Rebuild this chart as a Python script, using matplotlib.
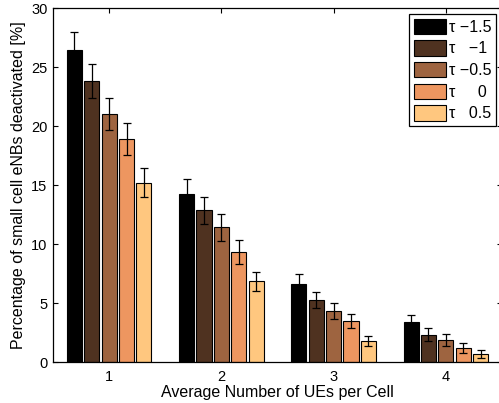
import numpy as np
import matplotlib
matplotlib.use('Agg')
import matplotlib.pyplot as plt

plt.rcParams['font.family'] = ['Liberation Sans', 'DejaVu Sans']

# data
groups = [1, 2, 3, 4]
labels = ['\u03c4 \u22121.5', '\u03c4   \u22121', '\u03c4 \u22120.5', '\u03c4     0', '\u03c4   0.5']
means = [
    [26.45, 14.29, 6.64, 3.42],   # tau -1.5
    [23.84, 12.85, 5.23, 2.31],   # tau -1
    [21.04, 11.41, 4.32, 1.86],   # tau -0.5
    [18.95, 9.29, 3.45, 1.19],    # tau 0
    [15.20, 6.85, 1.78, 0.65],    # tau 0.5
]
errs = [
    [1.53, 1.19, 0.80, 0.56],
    [1.46, 1.13, 0.68, 0.57],
    [1.39, 1.16, 0.65, 0.49],
    [1.36, 1.02, 0.59, 0.40],
    [1.24, 0.80, 0.45, 0.34],
]

colors = plt.cm.copper(np.linspace(0, 1, 5))

fig = plt.figure(figsize=(4.99, 4.03), dpi=100)
ax = fig.add_axes([53 / 499, 41 / 403, 449 / 499, 353.7 / 403])

x = np.array(groups, dtype=float)
step = 0.155
width = 0.135
for i in range(5):
    xs = x + (i - 2) * step
    ax.bar(xs, means[i], width=width, color=colors[i], edgecolor='black',
           linewidth=0.8, label=labels[i], zorder=2)
    ax.errorbar(xs, means[i], yerr=errs[i], fmt='none', ecolor='black',
                elinewidth=0.9, capsize=2.6, capthick=0.9, zorder=3)

ax.set_xlim(0.5, 4.5)
ax.set_ylim(0, 30)
ax.set_xticks(groups)
ax.set_yticks(np.arange(0, 31, 5))
ax.tick_params(direction='in', top=True, right=True, length=3.5, width=0.8,
               labelsize=10.5)
ax.tick_params(axis='x', pad=5.5)
ax.tick_params(axis='y', pad=4)
for s in ax.spines.values():
    s.set_linewidth(0.9)

ax.set_xlabel('Average Number of UEs per Cell', fontsize=11.5, labelpad=1)
ax.set_ylabel('Percentage of small cell eNBs deactivated [%]', fontsize=11.5,
              labelpad=4)

leg = ax.legend(loc='upper right', fontsize=11.5, fancybox=False,
                edgecolor='black', framealpha=1, handlelength=2.0,
                handleheight=1.12, labelspacing=0.34, handletextpad=0.2,
                borderpad=0.3, borderaxespad=0.35)
leg.get_frame().set_linewidth(0.9)

fig.savefig('out.png', dpi=100)
